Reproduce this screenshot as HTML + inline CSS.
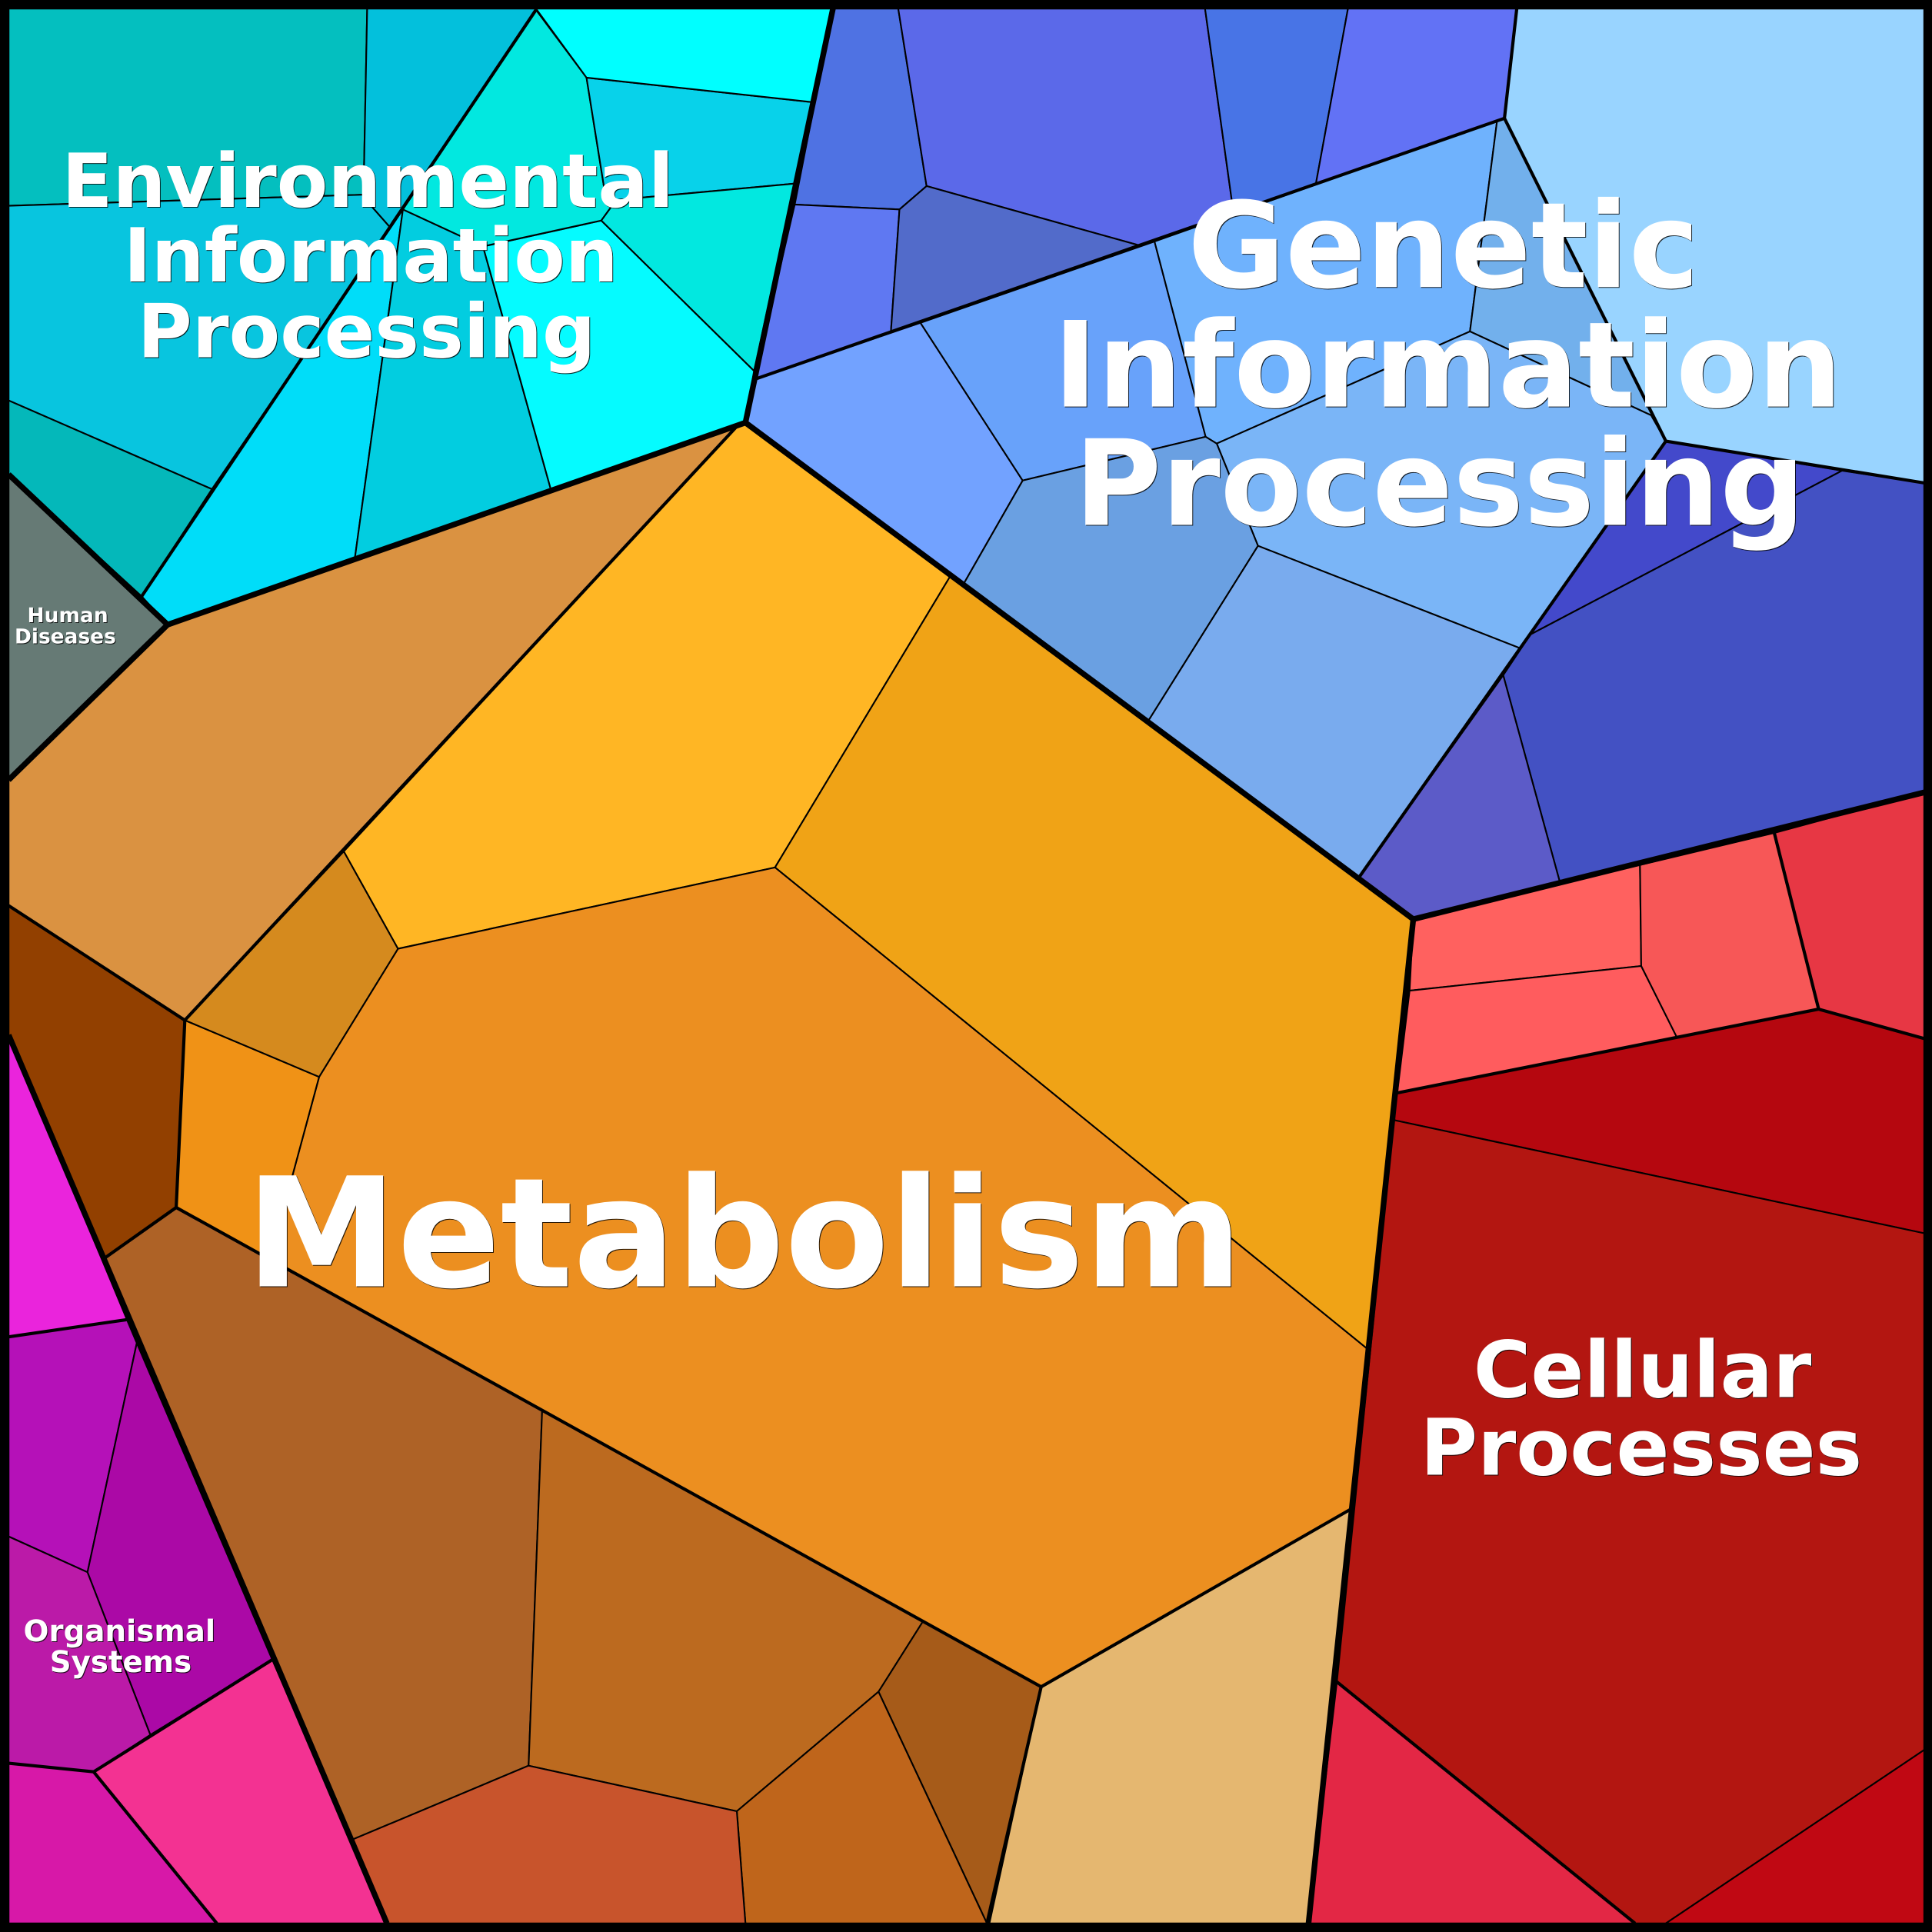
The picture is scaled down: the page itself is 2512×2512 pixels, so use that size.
<!DOCTYPE html>
<html><head><meta charset="utf-8"><style>
html,body{margin:0;padding:0;background:#000}
svg{display:block}
polygon{stroke:#000;stroke-width:1.3;stroke-linejoin:round}
.m{fill:none;stroke:#000;stroke-width:2.6;stroke-linejoin:round}
.t{fill:none;stroke:#000;stroke-width:4.6;stroke-linejoin:round}
text{font-family:"DejaVu Sans",sans-serif;font-weight:700;fill:#fff;text-anchor:middle;text-rendering:geometricPrecision}
</style></head><body>
<svg xmlns="http://www.w3.org/2000/svg" width="2512" height="2512" viewBox="0 0 1568 1568">
<defs><filter id="s" x="-5%" y="-5%" width="110%" height="110%" color-interpolation-filters="sRGB"><feDropShadow dx="0.6" dy="0.6" stdDeviation="0" flood-color="#000" flood-opacity="0.85"/></filter></defs>
<rect width="1568" height="1568" fill="#000"/>
<!-- Environmental -->
<polygon fill="#04bfbf" points="7,7 298,7 295,158 7,167"/>
<polygon fill="#03c0dc" points="298,7 435,7 317,185 302,168 295,158"/>
<polygon fill="#08c5df" points="7,167 295,158 302,168 317,185 172,397 7,325"/>
<polygon fill="#04b8ba" points="7,325 172,397 115,484 7,385"/>
<polygon fill="#00ddf9" points="327,170 115,484 136,507 288,453"/>
<polygon fill="#02cde0" points="327,170 392,200 447,397 288,453"/>
<polygon fill="#05fbff" points="392,200 488,179 612,301 605,343 447,397"/>
<polygon fill="#02e8e0" points="435,8 476,63 492,163 496,168 488,179 392,200 327,170"/>
<polygon fill="#08d2ea" points="476,63 660,83 645,149 492,163"/>
<polygon fill="#02e8e0" points="645,149 612,301 488,179 496,168 492,163"/>
<polygon fill="#00ffff" points="435,7 676,7 660,83 476,63"/>
<!-- Genetic upper -->
<polygon fill="#4f72e3" points="676,7 729,7 752,151 730,170 645,166"/>
<polygon fill="#5f78f2" points="645,166 730,170 723,270 612,308"/>
<polygon fill="#5b69e9" points="729,7 978,7 1001,172 924,199 752,151"/>
<polygon fill="#526bca" points="752,151 924,199 723,270 730,170"/>
<polygon fill="#4874e6" points="978,7 1094,7 1068,149 1001,172"/>
<polygon fill="#6272f5" points="1094,7 1231,7 1221,96 1068,149"/>
<polygon fill="#99d4ff" points="1231,7 1562,7 1562,392 1352,358 1221,96"/>
<!-- Genetic lower -->
<polygon fill="#72a2ff" points="612,308 747,262 830,390 782,474 605,343"/>
<polygon fill="#68a2fa" points="747,262 937,196 978.5,354.5 830,390"/>
<polygon fill="#6fb2fd" points="937,196 1215,98 1193,269 987.5,360 978.5,354.5"/>
<polygon fill="#72b0ec" points="1215,98 1221,96 1352,358 1340,337 1193,269"/>
<polygon fill="#7ab5f7" points="987.5,360 1193,269 1340,337 1352,358 1233.5,526 1021,443"/>
<polygon fill="#6aa0e2" points="830,390 978.5,354.5 987.5,360 1021,443 932,585 782,474"/>
<polygon fill="#79abee" points="1021,443 1233.5,526 1103,712 932,585"/>
<polygon fill="#4349cb" points="1352,358 1495,382 1242,515"/>
<polygon fill="#4351c3" points="1495,382 1562,392 1562,643 1266,716 1220,548 1242,515"/>
<polygon fill="#5c5bc8" points="1220,548 1266,716 1147,746 1103,712"/>
<!-- Cellular -->
<polygon fill="#ff615f" points="1147,746 1331,702 1332,784 1144,804"/>
<polygon fill="#ff5c5e" points="1144,804 1332,784 1361,842 1134,887"/>
<polygon fill="#f75757" points="1331,702 1440,676 1476,819 1361,842 1332,784"/>
<polygon fill="#e73744" points="1440,676 1562,643 1562,843 1476,819"/>
<polygon fill="#b5070f" points="1134,887 1476,819 1562,843 1562,1001 1131,909"/>
<polygon fill="#b31611" points="1131,909 1562,1001 1562,1420 1352,1561 1327,1561 1085,1365"/>
<polygon fill="#e32745" points="1085,1365 1327,1561 1062,1561"/>
<polygon fill="#c00813" points="1562,1420 1562,1561 1352,1561"/>
<!-- Metabolism -->
<polygon fill="#da9241" points="598.5,345.5 136,507 7,633 7,735 150,828 279,691"/>
<polygon fill="#ffb624" points="605,343 771,468 629,704 323,770 279,691 598.5,345.5"/>
<polygon fill="#f0a316" points="771,468 1147,746 1110,1095 629,704"/>
<polygon fill="#ec8f20" points="323,770 629,704 1110,1095 1096,1225 845,1369 219,1022 259,874"/>
<polygon fill="#f09216" points="150,828 259,874 219,1022 143,980"/>
<polygon fill="#d58a1e" points="279,691 323,770 259,874 150,828"/>
<polygon fill="#924000" points="7,735 150,828 143,980 85,1021 7,840"/>
<polygon fill="#ae6226" points="143,980 440,1145 429,1433 286,1493 85,1021"/>
<polygon fill="#bc6a1f" points="440,1145 749,1316 713,1373 598,1470 429,1433"/>
<polygon fill="#a65b19" points="749,1316 845,1369 801,1561 713,1373"/>
<polygon fill="#bf651b" points="713,1373 801,1561 605,1561 598,1470"/>
<polygon fill="#c8542c" points="286,1493 429,1433 598,1470 605,1561 314,1561"/>
<polygon fill="#e5b770" points="845,1369 1096,1225 1062,1561 803,1561"/>
<!-- Organismal -->
<polygon fill="#ea24dc" points="7,840 103,1071 7,1085"/>
<polygon fill="#b511b8" points="7,1085 103,1071 111,1090 71,1276 7,1247"/>
<polygon fill="#ab09a6" points="111,1090 221,1347 122,1408 71,1276"/>
<polygon fill="#bb1aa8" points="7,1247 71,1276 122,1408 76,1438 7,1431"/>
<polygon fill="#f33292" points="76,1438 221,1347 314,1561 176,1561"/>
<polygon fill="#d718a8" points="7,1431 76,1438 176,1561 7,1561"/>
<!-- Human -->
<polygon fill="#667a75" points="7,385 136,507 7,633"/>
<!-- Mid level lines -->
<polyline class="m" points="435,8 115,484"/>
<polyline class="m" points="612,308 1221,96 1352,358 1562,392"/>
<polyline class="m" points="1352,358 1103,712"/>
<polyline class="m" points="1231,7 1221,96"/>
<polyline class="m" points="1134,887 1476,819 1562,843"/>
<polyline class="m" points="1440,676 1476,819"/>
<polyline class="m" points="1085,1365 1327,1561"/>
<polyline class="m" points="598.5,345.5 150,828 143,980 85,1021"/>
<polyline class="m" points="7,735 150,828"/>
<polyline class="m" points="143,980 845,1369 1096,1225"/>
<polyline class="m" points="845,1369 801,1561"/>
<polyline class="m" points="7,1085 103,1071"/>
<polyline class="m" points="221,1347 76,1438 7,1431"/>
<polyline class="m" points="76,1438 176,1561"/>
<!-- Top level lines -->
<polyline class="t" points="676,7 605,343 136,507 7,385"/>
<polyline class="t" points="136,507 7,633"/>
<polyline class="t" points="605,343 1147,746 1562,643"/>
<polyline class="t" points="1147,746 1062,1561"/>
<polyline class="t" points="7,840 314,1561"/>
<!-- Outer frame -->
<rect x="3.5" y="3.5" width="1561" height="1561" fill="none" stroke="#000" stroke-width="7"/>
<!-- Labels -->
<g filter="url(#s)">
<text font-size="123.5" x="604" y="1044">Metabolism</text>
<text font-size="96.5" x="1171.5" y="233">Genetic</text>
<text font-size="96.5" x="1175" y="330">Information</text>
<text font-size="96.5" x="1168.5" y="426">Processing</text>
<text font-size="60.5" x="298.5" y="168">Environmental</text>
<text font-size="60.5" x="301" y="228.5">Information</text>
<text font-size="60.5" x="297.5" y="290">Processing</text>
<text font-size="63.5" x="1333" y="1134">Cellular</text>
<text font-size="63.5" x="1332" y="1197">Processes</text>
<text font-size="24.2" x="97" y="1332">Organismal</text>
<text font-size="24.2" x="98" y="1357">Systems</text>
<text font-size="16.5" x="55" y="505">Human</text>
<text font-size="16.5" x="53" y="522">Diseases</text>
</g>
</svg>
</body></html>
